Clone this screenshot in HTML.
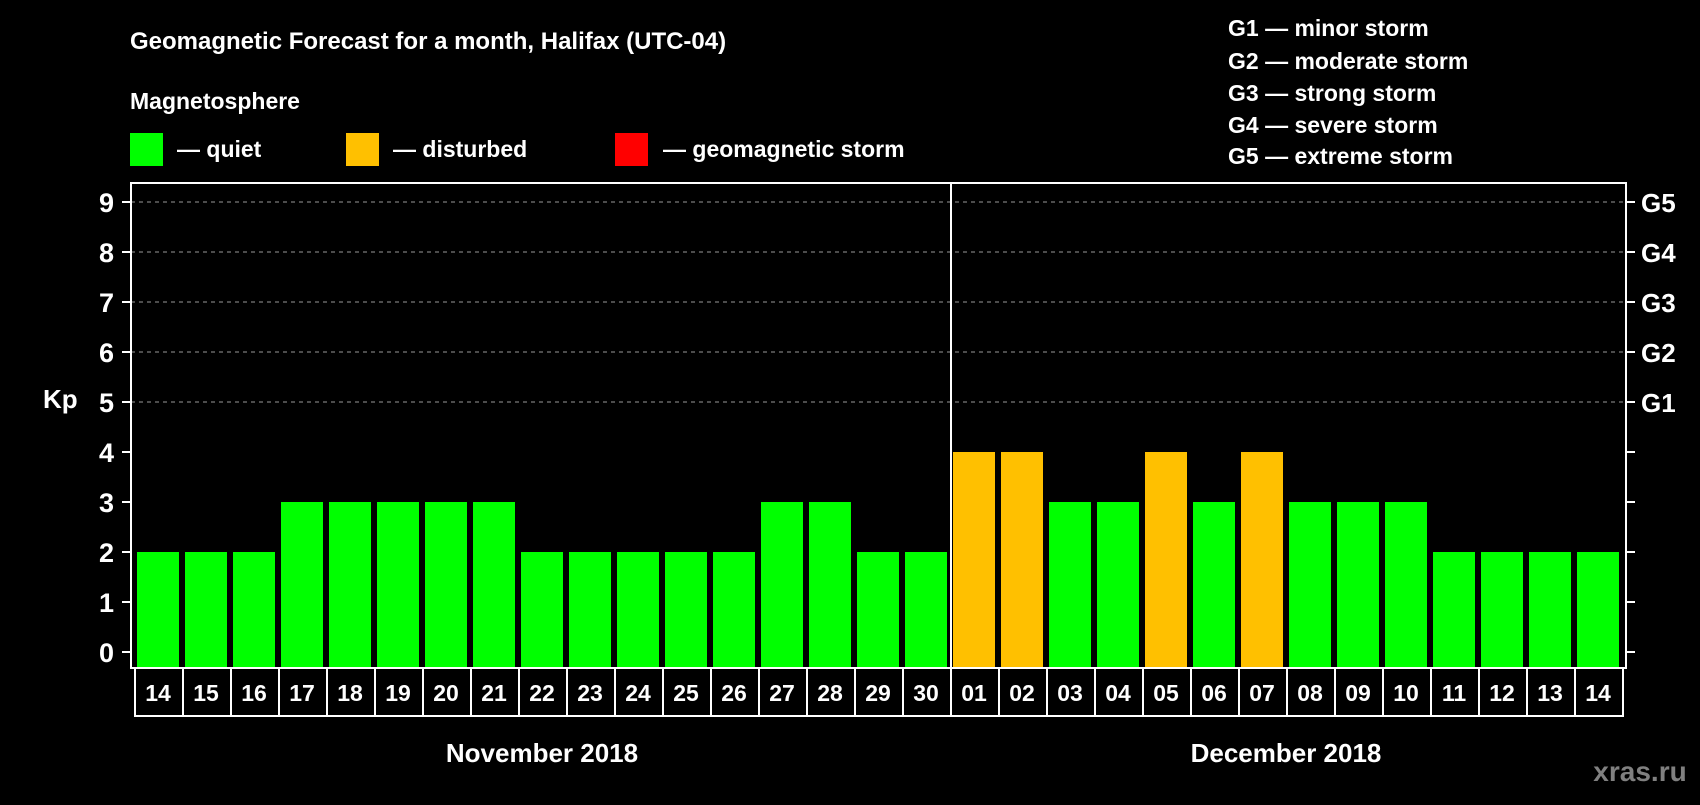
<!DOCTYPE html>
<html><head><meta charset="utf-8"><style>
body{margin:0;background:#000;width:1700px;height:800px;overflow:hidden;font-family:"Liberation Sans",Arial,sans-serif}
svg text{font-family:"Liberation Sans",Arial,sans-serif;font-weight:bold;fill:#fff}
</style></head><body>
<svg id="chart" width="1700" height="800">
<text x="130" y="49" font-size="24">Geomagnetic Forecast for a month, Halifax (UTC-04)</text>
<text x="130" y="109" font-size="23">Magnetosphere</text>
<rect x="130" y="133" width="33" height="33" fill="#00ff00"/>
<text x="177" y="157" font-size="23">— quiet</text>
<rect x="346" y="133" width="33" height="33" fill="#ffc000"/>
<text x="393" y="157" font-size="23">— disturbed</text>
<rect x="615" y="133" width="33" height="33" fill="#ff0000"/>
<text x="663" y="157" font-size="23">— geomagnetic storm</text>
<g>
<text x="1228" y="36" font-size="23">G1 — minor storm</text>
<text x="1228" y="69" font-size="23">G2 — moderate storm</text>
<text x="1228" y="101" font-size="23">G3 — strong storm</text>
<text x="1228" y="133" font-size="23">G4 — severe storm</text>
<text x="1228" y="164" font-size="23">G5 — extreme storm</text>
</g>
<text x="43" y="408" font-size="26">Kp</text>
<text x="542" y="762" font-size="26" text-anchor="middle">November 2018</text>
<text x="1286" y="762" font-size="26" text-anchor="middle">December 2018</text>
<text x="1640" y="781" font-size="28" text-anchor="middle" style="fill:#808080">xras.ru</text>
<g id="plot"></g>
</svg>
<script>
const days=["14","15","16","17","18","19","20","21","22","23","24","25","26","27","28","29","30","01","02","03","04","05","06","07","08","09","10","11","12","13","14"];
const kpValues=[2,2,2,3,3,3,3,3,2,2,2,2,2,3,3,2,2,4,4,3,3,4,3,4,3,3,3,2,2,2,2];
const yTicks=[0,1,2,3,4,5,6,7,8,9];
const gLabels=["G1","G2","G3","G4","G5"];
const gLevels=[5,6,7,8,9];
const monthBreakIndex=17;

const NS="http://www.w3.org/2000/svg";
const g=document.getElementById('plot');
const plotL=131,plotR=1626,plotT=183,plotB=668;
const cellL=135,cellW=48;
const y=v=>652-v*50;
const x=i=>cellL+i*cellW;
function mk(t,a){const e=document.createElementNS(NS,t);for(const k in a)e.setAttribute(k,a[k]);g.appendChild(e);return e;}
// grid
gLevels.forEach(v=>{
 const l=mk('line',{x1:plotL,x2:plotR,y1:y(v),y2:y(v),stroke:'#999','stroke-width':1,'stroke-dasharray':'4,4'});
 
 
});
// bars
kpValues.forEach((v,i)=>{
 const r=mk('rect',{x:x(i)+2,y:y(v),width:42,height:plotB-y(v),fill:v>=5?'#ff0000':(v>=4?'#ffc000':'#00ff00')});
 
 
});
// frame
const fr=mk('rect',{x:plotL,y:plotT,width:plotR-plotL,height:plotB-plotT,fill:'none',stroke:'#fff','stroke-width':2});


const dv=mk('line',{x1:x(monthBreakIndex),x2:x(monthBreakIndex),y1:plotT,y2:716,stroke:'#fff','stroke-width':2});


// y ticks
yTicks.forEach(v=>{
 mk('line',{x1:122,x2:plotL,y1:y(v),y2:y(v),stroke:'#fff','stroke-width':2});
 mk('line',{x1:plotR,x2:1635,y1:y(v),y2:y(v),stroke:'#fff','stroke-width':2});
 const t=mk('text',{x:114,y:y(v)+10,'font-size':27,'text-anchor':'end'});
 t.textContent=v;
 
 
});
gLabels.forEach((s,i)=>{
 const t=mk('text',{x:1641,y:y(gLevels[i])+10,'font-size':26});
 t.textContent=s;
 
 
});
// day cells
days.forEach((d,i)=>{
 const r=mk('rect',{x:x(i),y:plotB,width:cellW,height:48,fill:'none',stroke:'#fff','stroke-width':2});
 
 
 const t=mk('text',{x:x(i)+cellW/2-1,y:plotB+33,'font-size':23,'text-anchor':'middle'});
 t.textContent=d;
 
 
});
</script>
</body></html>
